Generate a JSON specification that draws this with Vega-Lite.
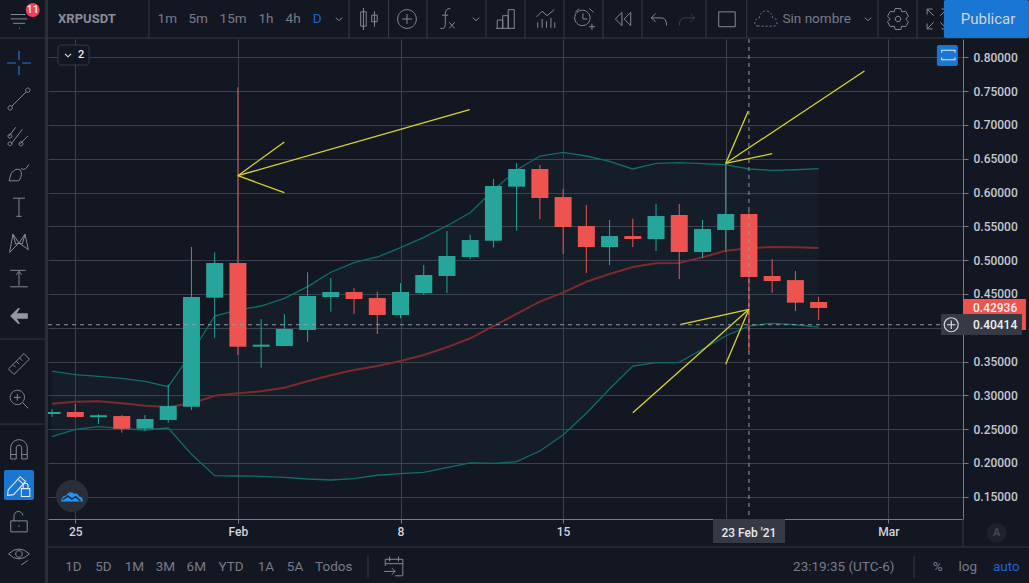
{
"$schema":"https://vega.github.io/schema/vega-lite/v6.json",
"width":915,"height":480,"autosize":"none",
"padding":{"left":48,"top":39,"right":66,"bottom":64},
"background":"#131722",
"view":{"stroke":null,"fill":"#131722"},
"config":{"font":"Roboto","text":{"font":"Roboto"}},
"datasets":{
"candles":[
{"date":"2021-01-24T00:00:00Z","open":0.2723,"close":0.2753,"high":0.2793,"low":0.2679},
{"date":"2021-01-25T00:00:00Z","open":0.2753,"close":0.2679,"high":0.2871,"low":0.2665},
{"date":"2021-01-26T00:00:00Z","open":0.2675,"close":0.2705,"high":0.2723,"low":0.2575},
{"date":"2021-01-27T00:00:00Z","open":0.2693,"close":0.2506,"high":0.2708,"low":0.2447},
{"date":"2021-01-28T00:00:00Z","open":0.2506,"close":0.2649,"high":0.2708,"low":0.2476},
{"date":"2021-01-29T00:00:00Z","open":0.2635,"close":0.2841,"high":0.3157,"low":0.2595},
{"date":"2021-01-30T00:00:00Z","open":0.2832,"close":0.4454,"high":0.5194,"low":0.2783},
{"date":"2021-01-31T00:00:00Z","open":0.4444,"close":0.4957,"high":0.5115,"low":0.3852},
{"date":"2021-02-01T00:00:00Z","open":0.4957,"close":0.3719,"high":0.7556,"low":0.3596},
{"date":"2021-02-02T00:00:00Z","open":0.3719,"close":0.3749,"high":0.4129,"low":0.3409},
{"date":"2021-02-03T00:00:00Z","open":0.3729,"close":0.3981,"high":0.4203,"low":0.3729},
{"date":"2021-02-04T00:00:00Z","open":0.3966,"close":0.4469,"high":0.4820,"low":0.3793},
{"date":"2021-02-05T00:00:00Z","open":0.4454,"close":0.4528,"high":0.4735,"low":0.4237},
{"date":"2021-02-06T00:00:00Z","open":0.4528,"close":0.4425,"high":0.4587,"low":0.4203},
{"date":"2021-02-07T00:00:00Z","open":0.4440,"close":0.4188,"high":0.4533,"low":0.3907},
{"date":"2021-02-08T00:00:00Z","open":0.4188,"close":0.4528,"high":0.4660,"low":0.4139},
{"date":"2021-02-09T00:00:00Z","open":0.4513,"close":0.4780,"high":0.4928,"low":0.4484},
{"date":"2021-02-10T00:00:00Z","open":0.4765,"close":0.5061,"high":0.5430,"low":0.4513},
{"date":"2021-02-11T00:00:00Z","open":0.5046,"close":0.5297,"high":0.5376,"low":0.5012},
{"date":"2021-02-12T00:00:00Z","open":0.5287,"close":0.6096,"high":0.6200,"low":0.5184},
{"date":"2021-02-13T00:00:00Z","open":0.6086,"close":0.6348,"high":0.6436,"low":0.5435},
{"date":"2021-02-14T00:00:00Z","open":0.6348,"close":0.5919,"high":0.6407,"low":0.5604},
{"date":"2021-02-15T00:00:00Z","open":0.5933,"close":0.5490,"high":0.6052,"low":0.5090},
{"date":"2021-02-16T00:00:00Z","open":0.5505,"close":0.5194,"high":0.5815,"low":0.4809},
{"date":"2021-02-17T00:00:00Z","open":0.5194,"close":0.5356,"high":0.5593,"low":0.4928},
{"date":"2021-02-18T00:00:00Z","open":0.5356,"close":0.5312,"high":0.5613,"low":0.5194},
{"date":"2021-02-19T00:00:00Z","open":0.5312,"close":0.5652,"high":0.5830,"low":0.5135},
{"date":"2021-02-20T00:00:00Z","open":0.5667,"close":0.5120,"high":0.5830,"low":0.4720},
{"date":"2021-02-21T00:00:00Z","open":0.5120,"close":0.5460,"high":0.5593,"low":0.5031},
{"date":"2021-02-22T00:00:00Z","open":0.5445,"close":0.5682,"high":0.6432,"low":0.5120},
{"date":"2021-02-23T00:00:00Z","open":0.5682,"close":0.4750,"high":0.5731,"low":0.3645},
{"date":"2021-02-24T00:00:00Z","open":0.4765,"close":0.4691,"high":0.5016,"low":0.4518},
{"date":"2021-02-25T00:00:00Z","open":0.4704,"close":0.4370,"high":0.4839,"low":0.4247},
{"date":"2021-02-26T00:00:00Z","open":0.4380,"close":0.4292,"high":0.4459,"low":0.4114}
],
"bands":[
{"date":"2021-01-24T00:00:00Z","upper":0.3359,"basis":0.2876,"lower":0.2388},
{"date":"2021-01-25T00:00:00Z","upper":0.3305,"basis":0.2906,"lower":0.2497},
{"date":"2021-01-26T00:00:00Z","upper":0.3281,"basis":0.2911,"lower":0.2536},
{"date":"2021-01-27T00:00:00Z","upper":0.3251,"basis":0.2881,"lower":0.2506},
{"date":"2021-01-28T00:00:00Z","upper":0.3207,"basis":0.2846,"lower":0.2487},
{"date":"2021-01-29T00:00:00Z","upper":0.3127,"basis":0.2827,"lower":0.2516},
{"date":"2021-01-30T00:00:00Z","upper":0.3625,"basis":0.2881,"lower":0.2127},
{"date":"2021-01-31T00:00:00Z","upper":0.4173,"basis":0.2994,"lower":0.1811},
{"date":"2021-02-01T00:00:00Z","upper":0.4262,"basis":0.3029,"lower":0.1806},
{"date":"2021-02-02T00:00:00Z","upper":0.4321,"basis":0.3059,"lower":0.1802},
{"date":"2021-02-03T00:00:00Z","upper":0.4435,"basis":0.3113,"lower":0.1787},
{"date":"2021-02-04T00:00:00Z","upper":0.4607,"basis":0.3207,"lower":0.1762},
{"date":"2021-02-05T00:00:00Z","upper":0.4820,"basis":0.3296,"lower":0.1747},
{"date":"2021-02-06T00:00:00Z","upper":0.4962,"basis":0.3374,"lower":0.1767},
{"date":"2021-02-07T00:00:00Z","upper":0.5046,"basis":0.3433,"lower":0.1817},
{"date":"2021-02-08T00:00:00Z","upper":0.5184,"basis":0.3507,"lower":0.1840},
{"date":"2021-02-09T00:00:00Z","upper":0.5337,"basis":0.3596,"lower":0.1861},
{"date":"2021-02-10T00:00:00Z","upper":0.5509,"basis":0.3710,"lower":0.1929},
{"date":"2021-02-11T00:00:00Z","upper":0.5701,"basis":0.3843,"lower":0.1999},
{"date":"2021-02-12T00:00:00Z","upper":0.6037,"basis":0.4025,"lower":0.1994},
{"date":"2021-02-13T00:00:00Z","upper":0.6333,"basis":0.4203,"lower":0.2018},
{"date":"2021-02-14T00:00:00Z","upper":0.6540,"basis":0.4385,"lower":0.2176},
{"date":"2021-02-15T00:00:00Z","upper":0.6595,"basis":0.4518,"lower":0.2413},
{"date":"2021-02-16T00:00:00Z","upper":0.6540,"basis":0.4680,"lower":0.2734},
{"date":"2021-02-17T00:00:00Z","upper":0.6462,"basis":0.4794,"lower":0.3093},
{"date":"2021-02-18T00:00:00Z","upper":0.6348,"basis":0.4897,"lower":0.3433},
{"date":"2021-02-19T00:00:00Z","upper":0.6432,"basis":0.4953,"lower":0.3482},
{"date":"2021-02-20T00:00:00Z","upper":0.6441,"basis":0.4957,"lower":0.3488},
{"date":"2021-02-21T00:00:00Z","upper":0.6426,"basis":0.5041,"lower":0.3681},
{"date":"2021-02-22T00:00:00Z","upper":0.6411,"basis":0.5139,"lower":0.3877},
{"date":"2021-02-23T00:00:00Z","upper":0.6348,"basis":0.5174,"lower":0.4025},
{"date":"2021-02-24T00:00:00Z","upper":0.6328,"basis":0.5194,"lower":0.4065},
{"date":"2021-02-25T00:00:00Z","upper":0.6337,"basis":0.5189,"lower":0.4044},
{"date":"2021-02-26T00:00:00Z","upper":0.6352,"basis":0.5179,"lower":0.4010}
],
"drawings":[
{"seg":"a1","date":"2021-02-01T00:00:00Z","price":0.6249},{"seg":"a1","date":"2021-02-10T23:30:00Z","price":0.7225},
{"seg":"a2","date":"2021-02-01T00:00:00Z","price":0.6249},{"seg":"a2","date":"2021-02-03T00:00:00Z","price":0.6747},
{"seg":"a3","date":"2021-02-01T00:00:00Z","price":0.6249},{"seg":"a3","date":"2021-02-03T00:00:00Z","price":0.5997},
{"seg":"b1","date":"2021-02-22T00:00:00Z","price":0.6432},{"seg":"b1","date":"2021-02-27T23:20:00Z","price":0.7797},
{"seg":"b2","date":"2021-02-22T00:00:00Z","price":0.6432},{"seg":"b2","date":"2021-02-22T23:20:00Z","price":0.7206},
{"seg":"b3","date":"2021-02-22T00:00:00Z","price":0.6432},{"seg":"b3","date":"2021-02-24T00:00:00Z","price":0.6574},
{"seg":"c1","date":"2021-02-23T00:00:00Z","price":0.4272},{"seg":"c1","date":"2021-02-20T00:45:00Z","price":0.4044},
{"seg":"c2","date":"2021-02-23T00:00:00Z","price":0.4272},{"seg":"c2","date":"2021-02-18T00:00:00Z","price":0.2743},
{"seg":"c3","date":"2021-02-23T00:00:00Z","price":0.4272},{"seg":"c3","date":"2021-02-22T00:00:00Z","price":0.3459}
]
},
"encoding":{
"x":{"field":"date","type":"temporal","title":null,
"scale":{"type":"utc","domain":["2021-01-23T19:47:00Z","2021-03-04T05:10:00Z"],"padding":0},
"axis":{"values":["2021-01-25T00:00:00Z","2021-02-01T00:00:00Z","2021-02-08T00:00:00Z","2021-02-15T00:00:00Z","2021-02-22T00:00:00Z","2021-03-01T00:00:00Z"],
"labelExpr":"utcFormat(datum.value,'%m-%d')=='02-01'?'Feb':utcFormat(datum.value,'%m-%d')=='03-01'?'Mar':utcFormat(datum.value,'%m-%d')=='02-22'?'':utcFormat(datum.value,'%-d')",
"grid":true,"gridColor":"#3c404c","gridWidth":1,"domainColor":"#787b86","tickColor":"#787b86","tickSize":4,
"labelColor":"#d1d4dc","labelFont":"Roboto","labelFontSize":12,"labelFontWeight":500,"labelPadding":3,"labelOverlap":false,"labelFlush":false,"zindex":0}},
"y":{"field":"price","type":"quantitative","title":null,
"scale":{"domain":[0.117,0.8271],"nice":false,"zero":false},
"axis":{"orient":"right","values":[0.15,0.2,0.25,0.3,0.35,0.4,0.45,0.5,0.55,0.6,0.65,0.7,0.75,0.8],"labelExpr":"datum.value>0.399&&datum.value<0.401?'':format(datum.value,'.5f')",
"grid":true,"gridColor":"#3c404c","gridWidth":1,"domainColor":"#787b86","tickColor":"#787b86","tickSize":5,
"labelColor":"#c5c8d0","labelFont":"Roboto","labelFontSize":12,"labelFontWeight":500,"labelPadding":5,"labelOverlap":false,"zindex":0}}
},
"layer":[
{"data":{"name":"bands"},"mark":{"type":"area","color":"#26a69a","opacity":0.05,"clip":true},
"encoding":{"y":{"field":"upper","type":"quantitative","title":null,"scale":{"domain":[0.117,0.8271],"nice":false,"zero":false},
"axis":{"orient":"right","values":[0.15,0.2,0.25,0.3,0.35,0.4,0.45,0.5,0.55,0.6,0.65,0.7,0.75,0.8],"labelExpr":"datum.value>0.399&&datum.value<0.401?'':format(datum.value,'.5f')",
"grid":true,"gridColor":"#3c404c","gridWidth":1,"domainColor":"#787b86","tickColor":"#787b86","tickSize":5,
"labelColor":"#c5c8d0","labelFont":"Roboto","labelFontSize":12,"labelFontWeight":500,"labelPadding":5,"labelOverlap":false,"zindex":0}},"y2":{"field":"lower"}}},
{"data":{"name":"bands"},"mark":{"type":"line","color":"#0f6f68","strokeWidth":1.3,"clip":true},
"encoding":{"y":{"field":"upper","type":"quantitative","title":null,"scale":{"domain":[0.117,0.8271],"nice":false,"zero":false}}}},
{"data":{"name":"bands"},"mark":{"type":"line","color":"#0f6f68","strokeWidth":1.3,"clip":true},
"encoding":{"y":{"field":"lower","type":"quantitative","title":null,"scale":{"domain":[0.117,0.8271],"nice":false,"zero":false}}}},
{"data":{"name":"bands"},"mark":{"type":"line","color":"#7d2a2e","strokeWidth":2,"clip":true},
"encoding":{"y":{"field":"basis","type":"quantitative","title":null,"scale":{"domain":[0.117,0.8271],"nice":false,"zero":false}}}},
{"data":{"name":"candles"},"mark":{"type":"rule","strokeWidth":1,"clip":true},
"encoding":{"y":{"field":"low","type":"quantitative","title":null,"scale":{"domain":[0.117,0.8271],"nice":false,"zero":false}},"y2":{"field":"high"},
"color":{"condition":{"test":"datum.close>=datum.open","value":"#26a69a"},"value":"#ef5350"}}},
{"data":{"name":"candles"},"mark":{"type":"bar","size":17,"orient":"vertical","clip":true},
"encoding":{"y":{"field":"open","type":"quantitative","title":null,"scale":{"domain":[0.117,0.8271],"nice":false,"zero":false}},"y2":{"field":"close"},
"color":{"condition":{"test":"datum.close>=datum.open","value":"#26a69a"},"value":"#ef5350"}}},
{"data":{"name":"drawings"},"mark":{"type":"line","color":"#d8d62b","strokeWidth":1.3},
"encoding":{"detail":{"field":"seg"}}},
{"data":{"values":[{"date":"2021-02-23T00:00:00Z","price":0.8271,"price2":0.117}]},"mark":{"type":"rule","color":"#9598a1","strokeDash":[4,4],"strokeWidth":1},
"encoding":{"y2":{"field":"price2"}}},
{"data":{"values":[{"date":"2021-01-23T19:47:00Z","date2":"2021-03-03T06:24:00Z","price":0.4044}]},"mark":{"type":"rule","color":"#9598a1","strokeDash":[4,4],"strokeWidth":1},
"encoding":{"x2":{"field":"date2"}}},
{"data":{"values":[
{"date":"2021-01-23T16:42:00Z","date2":"2021-01-23T19:48:00Z","price":0.8848,"price2":0.0224}
]},"mark":{"type":"rect","color":"#2a2e39"},"encoding":{"x2":{"field":"date2"},"y2":{"field":"price2"}}},
{"data":{"values":[
{"date":"2021-01-28T04:06:00Z","price":0.8848,"price2":0.8285},
{"date":"2021-02-05T18:48:00Z","price":0.8848,"price2":0.8285},
{"date":"2021-02-07T11:36:00Z","price":0.8848,"price2":0.8285},
{"date":"2021-02-09T03:24:00Z","price":0.8848,"price2":0.8285},
{"date":"2021-02-11T16:18:00Z","price":0.8848,"price2":0.8285},
{"date":"2021-02-13T08:36:00Z","price":0.8848,"price2":0.8285},
{"date":"2021-02-15T00:54:00Z","price":0.8848,"price2":0.8285},
{"date":"2021-02-16T17:12:00Z","price":0.8848,"price2":0.8285},
{"date":"2021-02-18T09:30:00Z","price":0.8848,"price2":0.8285},
{"date":"2021-02-21T03:36:00Z","price":0.8848,"price2":0.8285},
{"date":"2021-02-22T21:42:00Z","price":0.8848,"price2":0.8285},
{"date":"2021-02-28T13:18:00Z","price":0.8848,"price2":0.8285},
{"date":"2021-03-02T05:42:00Z","price":0.8848,"price2":0.8285},
{"date":"2021-02-06T14:24:00Z","price":0.0623,"price2":0.0297},
{"date":"2021-03-02T02:36:00Z","price":0.0623,"price2":0.0297},
{"date":"2021-03-04T05:10:00Z","price":0.117,"price2":0.0756}
]},"mark":{"type":"rule","color":"#363a45","strokeWidth":1},"encoding":{"y2":{"field":"price2"}}},
{"data":{"values":[
{"date":"2021-01-21T18:12:00Z","date2":"2021-03-07T01:18:00Z","price":0.8285},
{"date":"2021-01-23T19:48:00Z","date2":"2021-03-07T01:18:00Z","price":0.0756},
{"date":"2021-01-21T18:12:00Z","date2":"2021-01-23T16:42:00Z","price":0.3833},
{"date":"2021-01-21T18:12:00Z","date2":"2021-01-23T16:42:00Z","price":0.2575}
]},"mark":{"type":"rule","color":"#363a45","strokeWidth":1},"encoding":{"x2":{"field":"date2"}}},
{"data":{"values":[
{"icon":"line","date":"2021-01-22T13:48:00Z","price":0.7383},
{"icon":"fork","date":"2021-01-22T13:48:00Z","price":0.6851},
{"icon":"brush","date":"2021-01-22T13:48:00Z","price":0.6303},
{"icon":"tee","date":"2021-01-22T13:48:00Z","price":0.5786},
{"icon":"pattern","date":"2021-01-22T13:48:00Z","price":0.5253},
{"icon":"measure","date":"2021-01-22T13:48:00Z","price":0.4735},
{"icon":"ruler","date":"2021-01-22T13:48:00Z","price":0.3463},
{"icon":"zoom","date":"2021-01-22T13:48:00Z","price":0.2945},
{"icon":"magnet","date":"2021-01-22T13:48:00Z","price":0.2205},
{"icon":"lock","date":"2021-01-22T13:48:00Z","price":0.1126},
{"icon":"eye","date":"2021-01-22T13:48:00Z","price":0.0637},
{"icon":"menu","date":"2021-01-22T13:48:00Z","price":0.8552},
{"icon":"chevron","date":"2021-02-05T08:30:00Z","price":0.8567},
{"icon":"candles","date":"2021-02-06T15:24:00Z","price":0.8567},
{"icon":"pluscircle","date":"2021-02-08T06:42:00Z","price":0.8567},
{"icon":"fx","date":"2021-02-10T00:00:00Z","price":0.8567},
{"icon":"chevron","date":"2021-02-11T06:00:00Z","price":0.8567},
{"icon":"bars","date":"2021-02-12T13:00:00Z","price":0.8567},
{"icon":"indicator","date":"2021-02-14T06:18:00Z","price":0.8567},
{"icon":"alarm","date":"2021-02-15T21:36:00Z","price":0.8567},
{"icon":"rewind","date":"2021-02-17T13:54:00Z","price":0.8567},
{"icon":"undo","date":"2021-02-19T03:00:00Z","price":0.8567},
{"icon":"square","date":"2021-02-22T01:18:00Z","price":0.8567},
{"icon":"chevron","date":"2021-02-28T03:00:00Z","price":0.8567},
{"icon":"gear","date":"2021-03-01T10:00:00Z","price":0.8567},
{"icon":"full","date":"2021-03-03T02:18:00Z","price":0.8567},
{"icon":"calendar","date":"2021-02-07T17:18:00Z","price":0.046}
]},"mark":{"type":"point","filled":false,"color":"#868993","size":484,"strokeWidth":1,"opacity":1},
"encoding":{"shape":{"field":"icon","type":"nominal","legend":null,"scale":{"domain":["line","fork","brush","tee","pattern","measure","ruler","zoom","magnet","lock","eye","menu","chevron","candles","pluscircle","fx","bars","indicator","alarm","rewind","undo","square","gear","full","calendar"],
"range":[
"M-0.65 0.65L0.65 -0.65M-1 0.8a0.2 0.2 0 1 0 0.4 0a0.2 0.2 0 1 0 -0.4 0M0.6 -0.8a0.2 0.2 0 1 0 0.4 0a0.2 0.2 0 1 0 -0.4 0",
"M-0.9 0.1L-0.3 -0.7M-0.7 0.8L0.3 -0.5M0.1 0.8L0.8 0.1M-1 0.8a0.18 0.18 0 1 0 0.36 0a0.18 0.18 0 1 0 -0.36 0M-1 0.1a0.18 0.18 0 1 0 0.36 0a0.18 0.18 0 1 0 -0.36 0M0 0.8a0.18 0.18 0 1 0 0.36 0a0.18 0.18 0 1 0 -0.36 0",
"M-0.9 0.8L-0.7 0.1Q-0.3 -0.4 0.1 -0.2Q0.4 0.2 0 0.8ZM0.2 -0.3Q0.6 -0.1 0.9 -0.7",
"M-0.55 -0.8H0.55M0 -0.8V0.85M-0.25 0.85H0.25",
"M-0.85 0.85L-0.55 -0.8L0 0L0.55 -0.8L0.85 0.6L0 0L-0.85 0.85M-0.55 -0.8L-0.3 0.1L0 0M0.55 -0.8L0.3 0.1L0 0",
"M-0.8 -0.7H0.6M0 -0.6V0.7M-0.25 -0.3L0 -0.6L0.25 -0.3M-0.8 0.8H0.8",
"M-0.95 0.45L0.45 -0.95L0.95 -0.45L-0.45 0.95ZM-0.55 0.05L-0.3 0.3M-0.25 -0.25L0 0M0.05 -0.55L0.3 -0.3",
"M-0.8 -0.15a0.65 0.65 0 1 0 1.3 0a0.65 0.65 0 1 0 -1.3 0M-0.45 -0.15H0.15M-0.15 -0.45V0.15M0.32 0.32L0.85 0.85",
"M-0.75 0.9V-0.1A0.75 0.75 0 0 1 0.75 -0.1V0.9H0.25V-0.1A0.25 0.25 0 0 0 -0.25 -0.1V0.9ZM-0.75 0.5H-0.25M0.25 0.5H0.75",
"M-0.75 -0.1H0.75V0.9H-0.75ZM-0.45 -0.1V-0.5A0.4 0.4 0 0 1 0.35 -0.6M0 0.3V0.45",
"M-0.95 -0.1Q0 -1 0.95 -0.1Q0 0.8 -0.95 -0.1ZM-0.3 -0.1a0.3 0.3 0 1 0 0.6 0a0.3 0.3 0 1 0 -0.6 0M0.2 0.9L0.8 0.5",
"M-0.75 -0.5H0.6M-0.75 -0.1H0.75M-0.55 0.3H0.55M0 0.75H0.08",
"M-0.3 -0.12L0 0.15L0.3 -0.12",
"M-0.5 -1V1M-0.75 -0.65H-0.25V0.65H-0.75ZM0.5 -0.7V0.7M0.25 -0.35H0.75V0.25H0.25Z",
"M-0.85 0a0.85 0.85 0 1 0 1.7 0a0.85 0.85 0 1 0 -1.7 0M-0.45 0H0.45M0 -0.45V0.45",
"M0.3 -0.95Q-0.1 -1 -0.15 -0.5V0.5Q-0.2 1 -0.6 0.85M-0.45 -0.35H0.1M0.2 0.3L0.7 0.85M0.7 0.3L0.2 0.85",
"M-0.8 0.85V0.1H-0.3V0.85M-0.3 0.85V-0.3H0.2V0.85M0.2 0.85V-0.85H0.75V0.85M-0.9 0.85H0.8",
"M-0.85 -0.2L-0.35 -0.7L0.1 -0.3L0.75 -0.85M-0.75 0.8V0.3M-0.35 0.8V0M0.05 0.8V0.2M0.45 0.8V-0.1M0.8 0.8V0.3",
"M-0.85 -0.1a0.7 0.7 0 1 0 1.4 0a0.7 0.7 0 1 0 -1.4 0M-0.8 -0.6L-0.45 -0.95M0.5 -0.95L0.85 -0.6M-0.1 -0.5V0H0.3M0.45 0.7H1M0.72 0.42V0.98",
"M-0.1 -0.6L-0.7 0L-0.1 0.6ZM0.7 -0.6L0.1 0L0.7 0.6Z",
"M-0.7 -0.1L-0.3 -0.5M-0.7 -0.1L-0.3 0.25M-0.7 -0.1H0.2Q0.7 -0.1 0.7 0.6",
"M-0.75 -0.65H0.75V0.7H-0.75Z",
"M-0.25 -0.95H0.25L0.35 -0.65L0.7 -0.7L0.95 -0.25L0.7 0L0.95 0.25L0.7 0.7L0.35 0.65L0.25 0.95H-0.25L-0.35 0.65L-0.7 0.7L-0.95 0.25L-0.7 0L-0.95 -0.25L-0.7 -0.7L-0.35 -0.65ZM-0.25 0a0.25 0.25 0 1 0 0.5 0a0.25 0.25 0 1 0 -0.5 0",
"M-0.9 -0.4V-0.9H-0.4M0.4 -0.9H0.9V-0.4M-0.9 0.4V0.9H-0.4M0.4 0.9H0.9V0.4M-0.9 -0.9L-0.3 -0.3M0.9 -0.9L0.3 -0.3M-0.9 0.9L-0.3 0.3M0.9 0.9L0.3 0.3",
"M-0.8 -0.7H0.8V0.8H0.1M-0.8 -0.7V-0.1M-0.8 -0.3H0.8M-0.4 -0.95V-0.5M0.4 -0.95V-0.5M-0.9 0.4H0.1M-0.2 0.1L0.1 0.4L-0.2 0.7"
]}}}},
{"data":{"values":[{"icon":"cloud","date":"2021-02-23T17:36:00Z","price":0.8567}]},"mark":{"type":"point","filled":false,"color":"#787b86","size":484,"strokeWidth":1,"strokeDash":[2,2],"opacity":1,"shape":"M-0.7 0.65Q-1.1 0.6 -1 0.2Q-0.9 -0.1 -0.6 -0.1Q-0.5 -0.7 0 -0.75Q0.5 -0.7 0.6 -0.1Q1 -0.05 1 0.3Q1 0.65 0.7 0.65Z"}},
{"data":{"values":[{"icon":"redo","date":"2021-02-20T08:00:00Z","price":0.8567}]},"mark":{"type":"point","filled":false,"color":"#3c404c","size":484,"strokeWidth":1,"opacity":1,"shape":"M0.7 -0.1L0.3 -0.5M0.7 -0.1L0.3 0.25M0.7 -0.1H-0.2Q-0.7 -0.1 -0.7 0.6"}},
{"data":{"values":[{"icon":"back","date":"2021-01-22T13:48:00Z","price":0.4173}]},"mark":{"type":"point","filled":true,"color":"#9598a1","size":484,"opacity":1,"shape":"M-0.8 0L-0.1 -0.7H0.1L-0.2 -0.25H0.8V0.25H-0.2L0.1 0.7H-0.1Z"}},
{"data":{"values":[{"icon":"crosshair","date":"2021-01-22T13:48:00Z","price":0.7916}]},"mark":{"type":"point","filled":false,"color":"#2f72d8","size":576,"strokeWidth":1.2,"opacity":1,"shape":"M0 -1V-0.25M0 0.25V1M-1 0H-0.25M0.25 0H1"}},
{"data":{"values":[
{"date":"2021-03-03T09:24:00Z","date2":"2021-03-07T01:18:00Z","price":0.8848,"price2":0.8285},
{"date":"2021-03-03T02:12:00Z","date2":"2021-03-03T23:54:00Z","price":0.8182,"price2":0.7871},
{"date":"2021-01-21T22:18:00Z","date2":"2021-01-23T05:18:00Z","price":0.1895,"price2":0.1451}
]},"mark":{"type":"rect","color":"#1976d2","cornerRadius":2},"encoding":{"x2":{"field":"date2"},"y2":{"field":"price2"}}},
{"data":{"values":[{"date":"2021-03-04T05:10:00Z","date2":"2021-03-06T22:12:00Z","price":0.4425,"price2":0.3966}]},"mark":{"type":"rect","color":"#ef5350"},"encoding":{"x2":{"field":"date2"},"y2":{"field":"price2"}}},
{"data":{"values":[
{"date":"2021-03-03T06:24:00Z","date2":"2021-03-06T18:06:00Z","price":0.4203,"price2":0.3892},
{"date":"2021-02-21T10:54:00Z","date2":"2021-02-24T13:18:00Z","price":0.117,"price2":0.0815}
]},"mark":{"type":"rect","color":"#363a45"},"encoding":{"x2":{"field":"date2"},"y2":{"field":"price2"}}},
{"data":{"values":[{"date":"2021-01-24T06:06:00Z","date2":"2021-01-25T14:12:00Z","price":0.8182,"price2":0.7886}]},"mark":{"type":"rect","fill":"#131722","stroke":"#363a45","cornerRadius":3},"encoding":{"x2":{"field":"date2"},"y2":{"field":"price2"}}},
{"data":{"values":[{"date":"2021-01-24T20:36:00Z","price":0.151}]},"mark":{"type":"point","filled":true,"color":"#2a2e39","size":1024,"opacity":1}},
{"data":{"values":[{"icon":"logo","date":"2021-01-24T20:36:00Z","price":0.151}]},"mark":{"type":"point","filled":true,"color":"#2196f3","size":576,"opacity":1,"shape":"M-0.9 0.45Q-0.9 0 -0.5 -0.05Q-0.2 -0.5 0.15 -0.2Q0.5 -0.25 0.6 0.05Q0.95 0.1 0.9 0.45Z"}},
{"data":{"values":[{"icon":"logoline","date":"2021-01-24T20:36:00Z","price":0.151}]},"mark":{"type":"point","filled":false,"color":"#2a2e39","size":576,"strokeWidth":1.5,"opacity":1,"shape":"M-0.8 0.3L-0.35 0L0 0.25L0.3 0.05L0.7 0.4"}},
{"data":{"values":[{"date":"2021-03-05T16:00:00Z","price":0.0963}]},"mark":{"type":"point","filled":true,"color":"#1e222d","size":400,"opacity":1}},
{"data":{"values":[{"date":"2021-01-23T04:00:00Z","price":0.87}]},"mark":{"type":"point","filled":true,"color":"#f23d5f","size":196,"opacity":1}},
{"data":{"values":[{"date":"2021-03-03T17:00:00Z","price":0.4044}]},"mark":{"type":"point","filled":true,"fill":"#363a45","stroke":"#d1d4dc","strokeWidth":1.2,"size":196,"opacity":1}},
{"data":{"values":[{"icon":"plus","date":"2021-03-03T17:00:00Z","price":0.4044}]},"mark":{"type":"point","filled":false,"color":"#e8e9ec","size":576,"strokeWidth":1.1,"opacity":1,"shape":"M-0.35 0H0.35M0 -0.35V0.35"}},
{"data":{"values":[{"icon":"brackets","date":"2021-03-03T14:00:00Z","price":0.8034}]},"mark":{"type":"point","filled":false,"color":"#e8e9ec","size":576,"strokeWidth":1.1,"opacity":1,"shape":"M-0.55 -0.2V-0.4H0.55V-0.2M-0.55 0.2V0.4H0.55V0.2"}},
{"data":{"values":[{"icon":"chev2","date":"2021-01-24T16:30:00Z","price":0.8034}]},"mark":{"type":"point","filled":false,"color":"#e8e9ec","size":576,"strokeWidth":1.1,"opacity":1,"shape":"M-0.25 -0.1L0 0.15L0.25 -0.1"}},
{"data":{"values":[{"icon":"pencil","date":"2021-01-22T13:48:00Z","price":0.1672}]},"mark":{"type":"point","filled":false,"color":"#e8e9ec","size":576,"strokeWidth":1.1,"opacity":1,"shape":"M-0.9 0.4L0.1 -0.7L0.55 -0.3L-0.45 0.8L-0.95 0.85ZM-0.1 -0.5L0.35 -0.1M0.2 0.3H0.9V0.95H0.2ZM0.35 0.3V0.05A0.2 0.2 0 0 1 0.75 0.05V0.3"}},
{"data":{"values":[
{"label":"1m","date":"2021-01-28T23:00:00Z","price":0.8567},
{"label":"5m","date":"2021-01-30T07:00:00Z","price":0.8567},
{"label":"15m","date":"2021-01-31T19:00:00Z","price":0.8567},
{"label":"1h","date":"2021-02-02T05:00:00Z","price":0.8567},
{"label":"4h","date":"2021-02-03T09:00:00Z","price":0.8567},
{"label":"Sin nombre","date":"2021-02-25T22:00:00Z","price":0.8567},
{"label":"1D","date":"2021-01-24T22:00:00Z","price":0.046},
{"label":"5D","date":"2021-01-26T05:00:00Z","price":0.046},
{"label":"1M","date":"2021-01-27T13:00:00Z","price":0.046},
{"label":"3M","date":"2021-01-28T21:00:00Z","price":0.046},
{"label":"6M","date":"2021-01-30T05:00:00Z","price":0.046},
{"label":"YTD","date":"2021-01-31T17:00:00Z","price":0.046},
{"label":"1A","date":"2021-02-02T05:00:00Z","price":0.046},
{"label":"5A","date":"2021-02-03T11:00:00Z","price":0.046},
{"label":"Todos","date":"2021-02-05T03:00:00Z","price":0.046},
{"label":"23:19:35 (UTC-6)","date":"2021-02-27T02:00:00Z","price":0.046},
{"label":"%","date":"2021-03-03T03:00:00Z","price":0.046},
{"label":"log","date":"2021-03-04T10:00:00Z","price":0.046}
]},"mark":{"type":"text","color":"#787b86","fontSize":13.5,"font":"Roboto"},"encoding":{"text":{"field":"label"}}},
{"data":{"values":[
{"label":"D","date":"2021-02-04T10:00:00Z","price":0.8567},
{"label":"auto","date":"2021-03-06T02:00:00Z","price":0.046}
]},"mark":{"type":"text","color":"#1e62d8","fontSize":13.5,"font":"Roboto"},"encoding":{"text":{"field":"label"}}},
{"data":{"values":[{"label":"XRPUSDT","date":"2021-01-25T12:00:00Z","price":0.8567}]},"mark":{"type":"text","color":"#8a8d98","fontSize":13,"fontWeight":"bold","font":"Roboto"},"encoding":{"text":{"field":"label"}}},
{"data":{"values":[
{"label":"Publicar","date":"2021-03-05T07:00:00Z","price":0.8567}
]},"mark":{"type":"text","color":"#d1d4dc","fontSize":15,"font":"Roboto"},"encoding":{"text":{"field":"label"}}},
{"data":{"values":[
{"label":"2","date":"2021-01-25T06:00:00Z","price":0.8034},
{"label":"11","date":"2021-01-23T04:00:00Z","price":0.87}
]},"mark":{"type":"text","color":"#e8e9ec","fontSize":11,"font":"Roboto","fontWeight":500},"encoding":{"text":{"field":"label"}}},
{"data":{"values":[{"label":"A","date":"2021-03-05T16:00:00Z","price":0.0963}]},"mark":{"type":"text","color":"#4a4e5a","fontSize":11,"font":"Roboto","fontWeight":500},"encoding":{"text":{"field":"label"}}},
{"data":{"values":[{"label":"23 Feb '21","date":"2021-02-23T00:00:00Z","price":0.097}]},"mark":{"type":"text","color":"#e8e9ec","fontSize":12,"font":"Roboto","fontWeight":500},"encoding":{"text":{"field":"label"}}},
{"data":{"values":[
{"label":"0.42936","date":"2021-03-04T15:30:00Z","price":0.4291},
{"label":"0.40414","date":"2021-03-04T15:30:00Z","price":0.4044}
]},"mark":{"type":"text","color":"#f0f1f3","fontSize":12,"font":"Roboto","fontWeight":500,"align":"left"},"encoding":{"text":{"field":"label"}}}
]
}
